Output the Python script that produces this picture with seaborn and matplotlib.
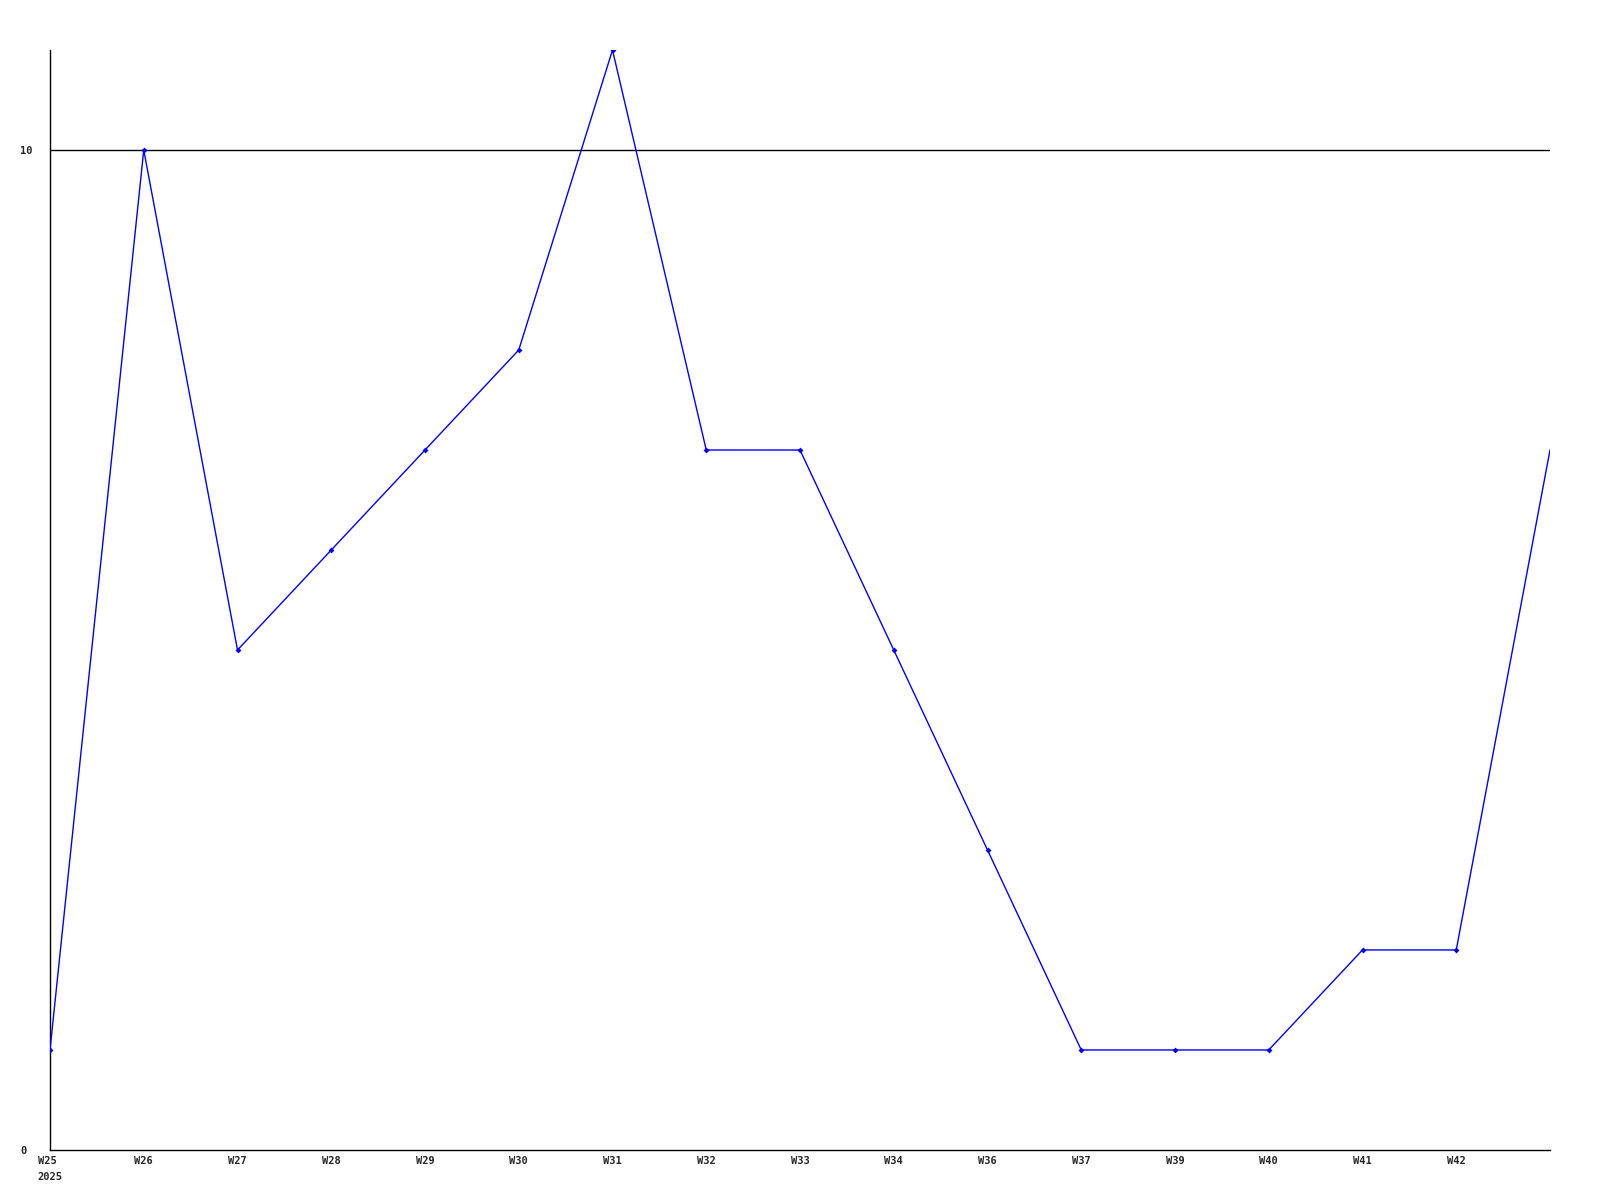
import matplotlib
matplotlib.use("Agg")
import matplotlib.pyplot as plt
import seaborn as sns
import pandas as pd

# -----------------------------------
# Data
# -----------------------------------
week_labels = ["W25\n2025", "W26", "W27", "W28", "W29", "W30", "W31", "W32",
               "W33", "W34", "W36", "W37", "W39", "W40", "W41", "W42", ""]
values = [1, 10, 5, 6, 7, 8, 11, 7, 7, 5, 3, 1, 1, 1, 2, 2, 7]
y_ticks = [0, 10]

df = pd.DataFrame({"pos": range(len(values)), "value": values})

# -----------------------------------
# Plot Style
# -----------------------------------
sns.set_style("white")
plt.rcParams["font.family"] = ["DejaVu Sans Mono", "DejaVu Sans"]

fig = plt.figure(figsize=(16, 12), dpi=100)
ax = fig.add_axes([0.03125, 0.0417, 0.9375, 0.9166])

ax.axhline(10, color="black", linewidth=1, zorder=1)

sns.lineplot(
    data=df,
    x="pos",
    y="value",
    color="#0000ff",
    linewidth=1,
    marker="D",
    markersize=3,
    markeredgewidth=0,
    markevery=list(range(len(values) - 1)),
    ax=ax,
    zorder=3,
)

ax.set_xlim(0, len(values) - 1)
ax.set_ylim(0, 11)
ax.set_xticks(range(len(values)))
ax.set_xticklabels(week_labels, fontsize=7.5, fontweight="bold",
                   linespacing=1.75, va="top")
ax.set_yticks(y_ticks)
ax.set_yticklabels([str(t) for t in y_ticks], fontsize=7.5, fontweight="bold",
                   ha="left")
ax.tick_params(axis="both", length=0)
ax.tick_params(axis="x", pad=4)
ax.tick_params(axis="y", pad=21.6)
for lbl in ax.get_xticklabels():
    lbl.set_horizontalalignment("center")
    lbl.set_multialignment("left")

ax.set_xlabel("")
ax.set_ylabel("")
for side in ["top", "right"]:
    ax.spines[side].set_visible(False)
for side in ["left", "bottom"]:
    ax.spines[side].set_color("black")
    ax.spines[side].set_linewidth(1)

fig.savefig("out.png", dpi=100)
plt.close(fig)
